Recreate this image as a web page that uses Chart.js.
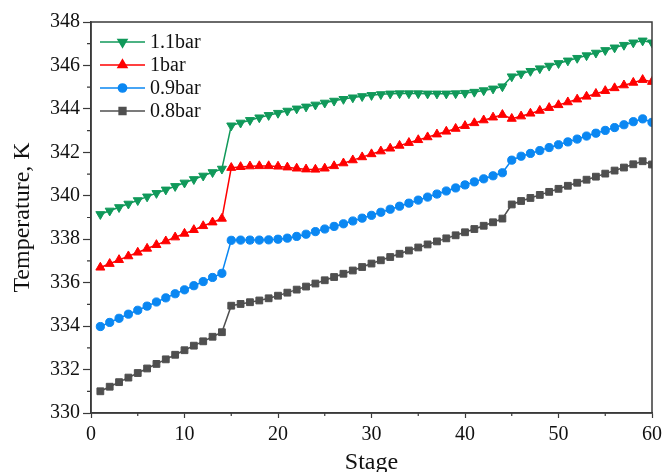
<!DOCTYPE html>
<html lang="en">
<head>
    <meta charset="UTF-8">
    <title>Temperature profile by stage</title>
    <script src="https://cdn.jsdelivr.net/npm/chart.js"></script>
    <style>
        html, body {
            margin: 0;
            padding: 0;
            background: #fff;
            overflow: hidden;
        }
        #wrap {
            width: 667px;
            height: 479px;
        }
    </style>
</head>
<body>
    <div id="wrap"><canvas id="tempChart"></canvas></div>

    <script>
        // stage numbers 1..60
        const stages = Array.from({ length: 60 }, (_, i) => i + 1);

        const seriesLabels = ['1.1bar', '1bar', '0.9bar', '0.8bar'];

        const temp11bar = [
            339.15, 339.31, 339.47, 339.63, 339.79, 339.96, 340.12, 340.28, 340.44, 340.60,
            340.76, 340.92, 341.08, 341.24, 343.23, 343.36, 343.48, 343.60, 343.71, 343.81,
            343.91, 344.01, 344.10, 344.19, 344.28, 344.37, 344.45, 344.52, 344.58, 344.63,
            344.67, 344.70, 344.71, 344.71, 344.71, 344.70, 344.70, 344.70, 344.71, 344.73,
            344.78, 344.85, 344.93, 345.03, 345.49, 345.62, 345.74, 345.86, 345.98, 346.10,
            346.22, 346.34, 346.46, 346.58, 346.70, 346.82, 346.94, 347.05, 347.14, 347.05
        ];
        const temp1bar = [
            336.70, 336.87, 337.05, 337.22, 337.39, 337.57, 337.74, 337.91, 338.09, 338.26,
            338.43, 338.61, 338.78, 338.95, 341.29, 341.33, 341.36, 341.37, 341.37, 341.35,
            341.31, 341.26, 341.22, 341.21, 341.26, 341.37, 341.50, 341.64, 341.78, 341.92,
            342.05, 342.18, 342.31, 342.44, 342.57, 342.70, 342.83, 342.96, 343.09, 343.22,
            343.35, 343.48, 343.61, 343.73, 343.55, 343.66, 343.79, 343.92, 344.05, 344.18,
            344.31, 344.44, 344.57, 344.70, 344.83, 344.96, 345.09, 345.21, 345.34, 345.25
        ];
        const temp09bar = [
            333.98, 334.17, 334.36, 334.55, 334.73, 334.92, 335.11, 335.30, 335.49, 335.67,
            335.86, 336.05, 336.24, 336.43, 337.95, 337.96, 337.96, 337.96, 337.97, 338.00,
            338.05, 338.13, 338.23, 338.35, 338.47, 338.59, 338.71, 338.84, 338.97, 339.10,
            339.24, 339.38, 339.52, 339.66, 339.80, 339.94, 340.08, 340.22, 340.36, 340.50,
            340.64, 340.78, 340.92, 341.06, 341.64, 341.82, 341.95, 342.08, 342.22, 342.35,
            342.48, 342.61, 342.75, 342.88, 343.01, 343.14, 343.27, 343.41, 343.54, 343.38
        ];
        const temp08bar = [
            331.00, 331.21, 331.42, 331.63, 331.84, 332.05, 332.26, 332.47, 332.68, 332.89,
            333.10, 333.30, 333.51, 333.72, 334.94, 335.02, 335.10, 335.18, 335.28, 335.40,
            335.54, 335.68, 335.82, 335.96, 336.11, 336.26, 336.41, 336.56, 336.72, 336.88,
            337.03, 337.18, 337.33, 337.48, 337.62, 337.76, 337.90, 338.04, 338.18, 338.32,
            338.47, 338.62, 338.78, 338.95, 339.60, 339.76, 339.90, 340.04, 340.18, 340.32,
            340.46, 340.60, 340.74, 340.88, 341.02, 341.16, 341.30, 341.45, 341.59, 341.44
        ];

        const xTicks = [0, 10, 20, 30, 40, 50, 60];
        const yTicks = [330, 332, 334, 336, 338, 340, 342, 344, 346, 348];

        const serif = "'Liberation Serif', 'Times New Roman', serif";
        const axisColor = '#3a3a3a';

        function toPoints(values) {
            return values.map((v, i) => ({ x: stages[i], y: v }));
        }

        function makeSet(label, values, color, style, rot, size) {
            return {
                label: label,
                data: toPoints(values),
                borderColor: color,
                backgroundColor: color,
                borderWidth: 1.5,
                pointStyle: style,
                rotation: rot,
                pointRadius: size,
                pointBorderWidth: 1,
                pointHoverRadius: size,
                tension: 0
            };
        }

        // frame on all four sides + minor ticks
        const framePlugin = {
            id: 'frame',
            afterDraw(chart) {
                const { ctx, chartArea: a, scales } = chart;
                ctx.save();
                ctx.strokeStyle = axisColor;
                ctx.lineWidth = 1.5;
                ctx.strokeRect(a.left, a.top, a.right - a.left, a.bottom - a.top);

                ctx.lineWidth = 1.2;
                ctx.beginPath();
                for (let v = 331; v < 348; v += 2) {
                    const y = scales.y.getPixelForValue(v);
                    ctx.moveTo(a.left, y);
                    ctx.lineTo(a.left - 4, y);
                }
                for (let v = 5; v < 60; v += 10) {
                    const x = scales.x.getPixelForValue(v);
                    ctx.moveTo(x, a.bottom);
                    ctx.lineTo(x, a.bottom + 3);
                }
                ctx.stroke();
                ctx.restore();
            }
        };

        // legend drawn as line + marker, inside the plot at top-left
        const legendPlugin = {
            id: 'insideLegend',
            afterDatasetsDraw(chart) {
                const { ctx, chartArea: a } = chart;
                ctx.save();
                chart.data.datasets.forEach((ds, i) => {
                    const y = a.top + 20 + i * 23;
                    const x0 = a.left + 9;
                    const x1 = a.left + 54;
                    ctx.strokeStyle = ds.borderColor;
                    ctx.fillStyle = ds.backgroundColor;
                    ctx.lineWidth = 1.5;
                    ctx.beginPath();
                    ctx.moveTo(x0, y);
                    ctx.lineTo(x1, y);
                    ctx.stroke();
                    Chart.helpers.drawPoint(ctx, {
                        pointStyle: ds.pointStyle,
                        radius: ds.pointRadius,
                        rotation: ds.rotation || 0,
                        borderWidth: 1
                    }, (x0 + x1) / 2, y);
                    ctx.fillStyle = '#111';
                    ctx.font = '20px ' + serif;
                    ctx.textBaseline = 'middle';
                    ctx.textAlign = 'left';
                    ctx.fillText(ds.label, x1 + 5, y + 1);
                });
                ctx.restore();
            }
        };

        const ctx = document.getElementById('tempChart').getContext('2d');
        const tempChart = new Chart(ctx, {
            type: 'line',
            data: {
                datasets: [
                    makeSet(seriesLabels[0], temp11bar, '#10995A', 'triangle', 180, 5.2),
                    makeSet(seriesLabels[1], temp1bar, '#FF0000', 'triangle', 0, 5.2),
                    makeSet(seriesLabels[2], temp09bar, '#0A87F2', 'circle', 0, 4.1),
                    makeSet(seriesLabels[3], temp08bar, '#4F4F4F', 'rect', 0, 4.8)
                ]
            },
            options: {
                responsive: true,
                maintainAspectRatio: false,
                animation: false,
                layout: {
                    padding: { left: 0, right: 14, top: 22, bottom: 0 }
                },
                plugins: {
                    legend: { display: false },
                    tooltip: { enabled: false }
                },
                scales: {
                    x: {
                        type: 'linear',
                        min: 0,
                        max: 60,
                        afterBuildTicks(scale) {
                            scale.ticks = xTicks.map(v => ({ value: v }));
                        },
                        afterFit(scale) {
                            scale.height = 66;
                        },
                        grid: {
                            drawOnChartArea: false,
                            drawTicks: true,
                            tickLength: 5,
                            tickWidth: 1.2,
                            tickColor: axisColor
                        },
                        border: { color: axisColor, width: 1.5 },
                        ticks: {
                            color: '#111',
                            font: { family: serif, size: 20 },
                            padding: 5,
                            maxRotation: 0
                        },
                        title: {
                            display: true,
                            text: 'Stage',
                            color: '#111',
                            font: { family: serif, size: 24 },
                            padding: { top: 0, bottom: 2 }
                        }
                    },
                    y: {
                        min: 330,
                        max: 348,
                        afterBuildTicks(scale) {
                            scale.ticks = yTicks.map(v => ({ value: v }));
                        },
                        afterFit(scale) {
                            scale.width = 91;
                        },
                        grid: {
                            drawOnChartArea: false,
                            drawTicks: true,
                            tickLength: 8,
                            tickWidth: 1.2,
                            tickColor: axisColor
                        },
                        border: { color: axisColor, width: 1.5 },
                        ticks: {
                            color: '#111',
                            font: { family: serif, size: 20 },
                            padding: 3
                        },
                        title: {
                            display: true,
                            text: 'Temperature, K',
                            color: '#111',
                            font: { family: serif, size: 24 },
                            padding: { top: 8, bottom: 0 }
                        }
                    }
                }
            },
            plugins: [framePlugin, legendPlugin]
        });
    </script>
</body>
</html>
